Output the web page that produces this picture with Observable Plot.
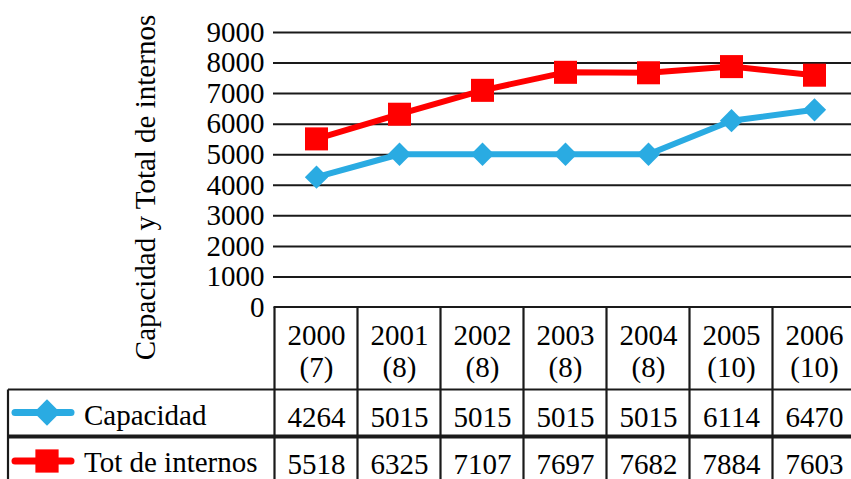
<!DOCTYPE html>
<html><head><meta charset="utf-8">
<script src="https://cdn.jsdelivr.net/npm/d3@7"></script>
<script src="https://cdn.jsdelivr.net/npm/@observablehq/plot@0.6"></script>
<style>
html,body{margin:0;padding:0;background:#fff;}
#chart svg, #chart svg text { font-family: "Liberation Serif", "DejaVu Serif", serif !important; }
</style>
</head><body><div id="chart"></div>
<script>
const years = ["2000", "2001", "2002", "2003", "2004", "2005", "2006"];
const counts = ["(7)", "(8)", "(8)", "(8)", "(8)", "(10)", "(10)"];
const capacidad = [4264, 5015, 5015, 5015, 5015, 6114, 6470];
const internos = [5518, 6325, 7107, 7697, 7682, 7884, 7603];
const seriesNames = ["Capacidad", "Tot de internos"];
const yTicks = [0, 1000, 2000, 3000, 4000, 5000, 6000, 7000, 8000, 9000];
const yLabel = "Capacidad y Total de internos";

const BLUE = "#2aabe2", RED = "#ff0000", INK = "#1a1a1a";
const FONT = "Liberation Serif";

const capData = years.map((y, i) => ({year: y, count: counts[i], value: capacidad[i]}));
const intData = years.map((y, i) => ({year: y, count: counts[i], value: internos[i]}));

function decorations(index, scales, values, dims) {
  const x = scales.x, y = scales.y;
  const step = x(years[1]) - x(years[0]);
  const left = x(years[0]) - step / 2;
  const right = x(years[years.length - 1]) + step / 2;
  const y0 = y(0);
  const legendLeft = 8;
  const rowHead = y0 + 82.5, rowSep = y0 + 129.5;
  const g = d3.create("svg:g");
  const L = (x1, y1, x2, y2, w) => g.append("line").attr("x1", x1).attr("y1", y1).attr("x2", x2).attr("y2", y2)
    .attr("stroke", INK).attr("stroke-width", w);
  L(left - 1, y0, right, y0, 2.2);
  for (let i = 0; i <= years.length; i++) L(left + i * step, y0, left + i * step, dims.height + 5, 2.2);
  L(legendLeft, rowHead, right, rowHead, 2.2);
  L(legendLeft, rowSep, right, rowSep, 4);
  L(legendLeft, rowHead, legendLeft, dims.height + 5, 2.2);
  // legend
  const rows = [
    {name: seriesNames[0], color: BLUE, sym: d3.symbolDiamond2, size: 440, cy: y0 + 105.5, ty: y0 + 118},
    {name: seriesNames[1], color: RED, sym: d3.symbolSquare, size: 540, cy: y0 + 154, ty: y0 + 164.7}
  ];
  for (const r of rows) {
    g.append("line").attr("x1", 15).attr("x2", 71).attr("y1", r.cy).attr("y2", r.cy)
      .attr("stroke", r.color).attr("stroke-width", 7).attr("stroke-linecap", "round");
    g.append("path").attr("d", d3.symbol(r.sym, r.size)()).attr("transform", `translate(47,${r.cy})`).attr("fill", r.color);
    g.append("text").attr("x", 84).attr("y", r.ty).attr("text-anchor", "start")
      .attr("font-family", FONT).attr("fill", "#000").text(r.name);
  }
  // y axis title
  g.append("text").attr("transform", `translate(155,187.5) rotate(-90)`).attr("text-anchor", "middle")
    .attr("font-family", FONT).attr("fill", "#000").text(yLabel);
  return g.node();
}

const chart = Plot.plot({
  width: 851,
  height: 479,
  marginLeft: 273,
  marginRight: 0,
  marginTop: 32,
  marginBottom: 172,
  style: {fontFamily: FONT, fontSize: "29px", color: "#000", background: "#fff"},
  x: {type: "point", domain: years, range: [273.3, 856.4], padding: 0.5, axis: null},
  y: {domain: [0, 9000], axis: null},
  marks: [
    Plot.ruleY(yTicks.filter(d => d > 0), {stroke: INK, strokeWidth: 2, strokeOpacity: 1}),
    Plot.axisY(yTicks, {tickSize: 0, tickPadding: 9, tickFormat: d => String(d), label: null, fontFamily: FONT}),
    decorations,
    Plot.line(capData, {x: "year", y: "value", stroke: BLUE, strokeWidth: 6, strokeLinejoin: "round"}),
    Plot.dot(capData, {x: "year", y: "value", symbol: "diamond2", r: 10.5, fill: BLUE, stroke: "none"}),
    Plot.line(intData, {x: "year", y: "value", stroke: RED, strokeWidth: 6, strokeLinejoin: "round"}),
    Plot.dot(intData, {x: "year", y: "value", symbol: "square", r: 13, fill: RED, stroke: "none"}),
    Plot.text(capData, {x: "year", text: "year", frameAnchor: "bottom", dy: 37, fill: "#000", fontFamily: FONT}),
    Plot.text(capData, {x: "year", text: "count", frameAnchor: "bottom", dy: 69, fill: "#000", fontFamily: FONT}),
    Plot.text(capData, {x: "year", text: d => String(d.value), frameAnchor: "bottom", dy: 119.5, fill: "#000", fontFamily: FONT}),
    Plot.text(intData, {x: "year", text: d => String(d.value), frameAnchor: "bottom", dy: 166.5, fill: "#000", fontFamily: FONT})
  ]
});
document.getElementById("chart").appendChild(chart);
</script>
</body></html>
